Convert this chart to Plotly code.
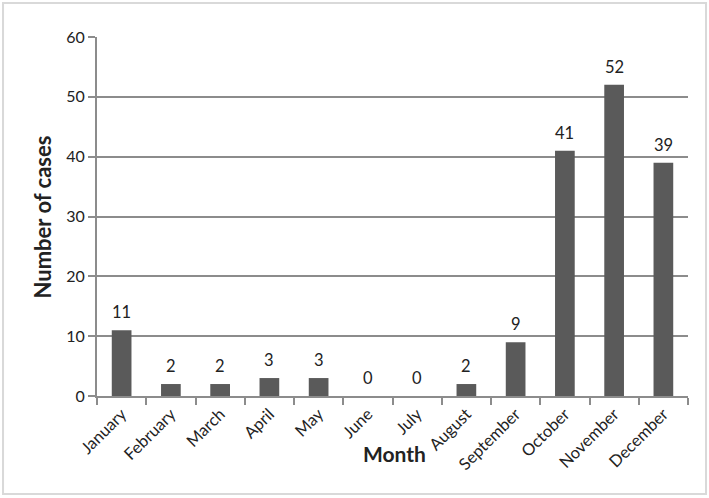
import plotly.graph_objects as go

months = ["January", "February", "March", "April", "May", "June",
          "July", "August", "September", "October", "November", "December"]
cases = [11, 2, 2, 3, 3, 0, 0, 2, 9, 41, 52, 39]
y_ticks = [0, 10, 20, 30, 40, 50, 60]

GRID = "#8c8c8c"
BAR = "#5a5a5a"
TEXT = "#222222"
FONT = "Lato"

fig = go.Figure(
    go.Bar(
        x=months,
        y=cases,
        width=0.4,
        marker={"color": BAR, "line": {"width": 0}},
        hovertemplate="%{x}: %{y}<extra></extra>",
    )
)

# value labels sit a little higher above the bars than plotly's own outside text
for m, v in zip(months, cases):
    fig.add_annotation(
        x=m, y=v, text=str(v), showarrow=False,
        yanchor="bottom", yshift=6,
        font={"family": FONT, "size": 16.5, "color": TEXT},
    )

fig.update_layout(
    width=709,
    height=498,
    margin={"l": 97, "r": 21, "t": 37, "b": 102},
    paper_bgcolor="white",
    plot_bgcolor="white",
    showlegend=False,
    font={"family": FONT, "size": 14, "color": TEXT},
    xaxis={
        "tickangle": -45,
        "tickson": "boundaries",
        "ticks": "outside",
        "ticklen": 7,
        "tickcolor": GRID,
        "tickwidth": 2,
        "showline": True,
        "linecolor": GRID,
        "linewidth": 2,
        "showgrid": False,
        "automargin": False,
        "tickfont": {"family": FONT, "size": 16.5, "color": TEXT},
    },
    yaxis={
        "range": [0, 60],
        "tickvals": y_ticks,
        "ticks": "outside",
        "ticklen": 7,
        "tickcolor": GRID,
        "tickwidth": 2,
        "showline": True,
        "linecolor": GRID,
        "linewidth": 2,
        "gridcolor": GRID,
        "gridwidth": 2,
        "zeroline": False,
        "automargin": False,
        "tickfont": {"family": FONT, "size": 16, "color": TEXT},
    },
)

# Axis titles placed like the original
fig.add_annotation(
    x=0.504, y=-0.159, xref="paper", yref="paper",
    xanchor="center", yanchor="middle",
    text="<b>Month</b>", showarrow=False,
    font={"family": FONT, "size": 21, "color": TEXT},
)
fig.add_annotation(
    x=-0.0914, y=0.5, xref="paper", yref="paper",
    xanchor="center", yanchor="middle",
    text="<b>Number of cases</b>", showarrow=False, textangle=-90,
    font={"family": FONT, "size": 22, "color": TEXT},
)

# Light outer frame
fig.add_shape(
    type="rect", xref="paper", yref="paper",
    x0=-0.159, x1=1.0305, y0=-0.273, y1=1.0947,
    line={"color": "#d9d9d9", "width": 2},
    layer="below",
)

fig.write_html(
    "out.html",
    config={"displayModeBar": False},
    post_script="document.body.style.margin='0';",
)
